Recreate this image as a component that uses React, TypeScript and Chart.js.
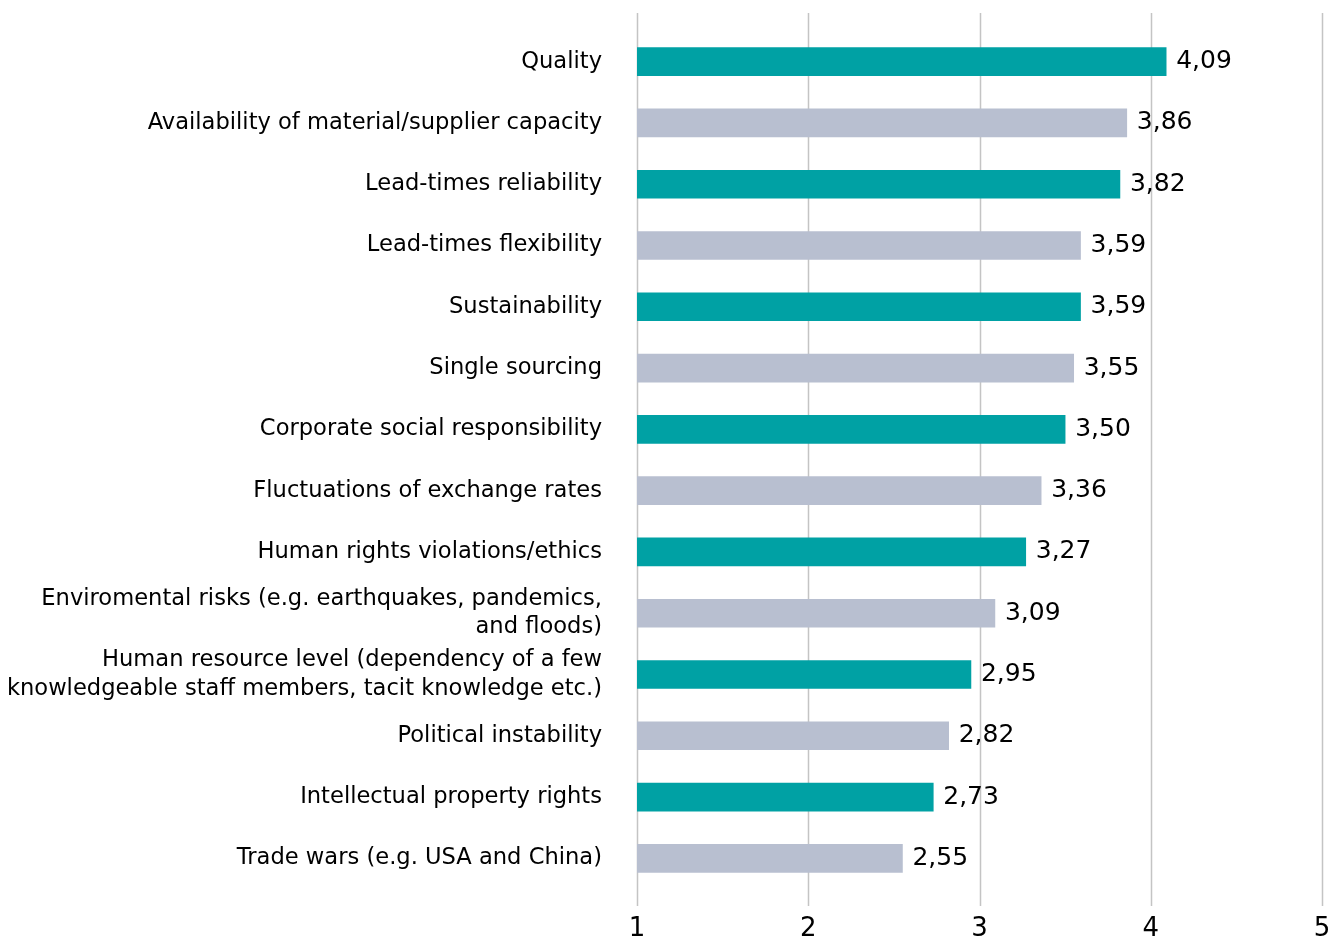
import React, { useEffect, useRef } from "react";
import { Chart, registerables } from "chart.js";

Chart.register(...registerables);

const categories: (string | string[])[] = [
  "Quality",
  "Availability of material/supplier capacity",
  "Lead-times reliability",
  "Lead-times flexibility",
  "Sustainability",
  "Single sourcing",
  "Corporate social responsibility",
  "Fluctuations of exchange rates",
  "Human rights violations/ethics",
  ["Enviromental risks (e.g. earthquakes, pandemics,", "and floods)"],
  ["Human resource level (dependency of a few", "knowledgeable staff members, tacit knowledge etc.)"],
  "Political instability",
  "Intellectual property rights",
  "Trade wars (e.g. USA and China)",
];

const values: number[] = [4.09, 3.86, 3.82, 3.59, 3.59, 3.55, 3.5, 3.36, 3.27, 3.09, 2.95, 2.82, 2.73, 2.55];

const xTicks: number[] = [1, 2, 3, 4, 5];

const TEAL = "#00A1A4";
const GRAY = "#B8BFD0";
const barColors = values.map((_, i) => (i % 2 === 0 ? TEAL : GRAY));

const FONT = "'DejaVu Sans', sans-serif";

const valueLabels = {
  id: "valueLabels",
  afterDatasetsDraw(chart: any) {
    const ctx = chart.ctx;
    const meta = chart.getDatasetMeta(0);
    ctx.save();
    ctx.font = `25px ${FONT}`;
    ctx.fillStyle = "#000";
    ctx.textAlign = "left";
    ctx.textBaseline = "middle";
    meta.data.forEach((el: any, i: number) => {
      const txt = values[i].toFixed(2).replace(".", ",");
      ctx.fillText(txt, el.x + 10, el.y);
    });
    ctx.restore();
  },
};

const gridPlugin = {
  id: "customGrid",
  beforeDatasetsDraw(chart: any) {
    const ctx = chart.ctx;
    const xs = chart.scales.x;
    const area = chart.chartArea;
    ctx.save();
    ctx.strokeStyle = "#C4C4C4";
    ctx.lineWidth = 1.5;
    xTicks.forEach((t) => {
      const px = Math.round(xs.getPixelForValue(t)) + 0.5;
      ctx.beginPath();
      ctx.moveTo(px, area.top - 18);
      ctx.lineTo(px, area.bottom + 17);
      ctx.stroke();
    });
    ctx.restore();
  },
};

export default function App() {
  const ref = useRef<HTMLCanvasElement>(null);
  useEffect(() => {
    const canvas = ref.current!;
    const chart = new Chart(canvas, {
      type: "bar",
      data: {
        labels: categories,
        datasets: [
          {
            data: values,
            backgroundColor: barColors,
            barThickness: 28,
            base: 1,
          } as any,
        ],
      },
      options: {
        indexAxis: "y",
        animation: false,
        responsive: false,
        maintainAspectRatio: false,
        layout: { padding: { top: 31, right: 16, left: 0, bottom: 0 } },
        plugins: { legend: { display: false }, tooltip: { enabled: false } },
        scales: {
          x: {
            type: "linear",
            min: 1,
            max: 5,
            afterBuildTicks: (scale: any) => {
              scale.ticks = xTicks.map((v) => ({ value: v }));
            },
            afterFit: (scale: any) => {
              scale.height = 50;
              scale.paddingLeft = 0;
              scale.paddingRight = 0;
            },
            grid: { display: false, drawTicks: false },
            border: { display: false },
            ticks: {
              font: { family: FONT, size: 26 },
              color: "#000",
              padding: 25,
              maxRotation: 0,
            },
          },
          y: {
            afterFit: (scale: any) => {
              scale.width = 637;
              scale.paddingTop = 0;
              scale.paddingBottom = 0;
            },
            grid: { display: false, drawTicks: false },
            border: { display: false },
            ticks: {
              font: { family: FONT, size: 22.6, lineHeight: 1.25 },
              color: "#000",
              padding: 35,
              autoSkip: false,
            },
          },
        },
      },
      plugins: [gridPlugin, valueLabels],
    });
    return () => chart.destroy();
  }, []);
  return (
    <div style={{ position: "absolute", left: 0, top: 0, width: 1338, height: 939, background: "#fff" }}>
      <canvas ref={ref} width={1338} height={939} />
    </div>
  );
}
